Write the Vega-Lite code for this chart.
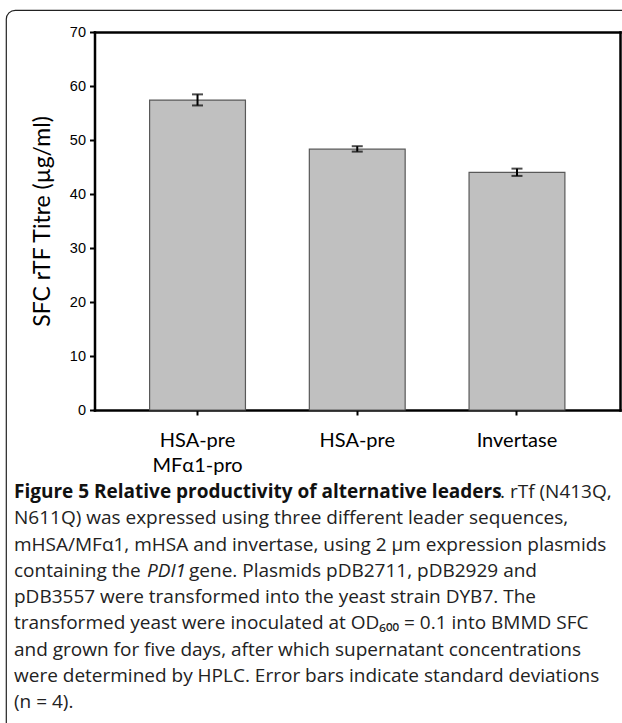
{
  "$schema": "https://vega.github.io/schema/vega-lite/v6.json",
  "width": 640,
  "height": 740,
  "autosize": {"type": "none"},
  "padding": {"left": 6, "top": 10, "right": -24, "bottom": -27},
  "background": "#ffffff",
  "config": {
    "view": {"stroke": "#222222", "strokeWidth": 1.2, "cornerRadius": 9, "fill": "#ffffff"},
    "axis": {"grid": false, "domainColor": "#000000", "tickColor": "#000000", "labelColor": "#000000", "titleColor": "#000000", "domainWidth": 2.5, "domainCap": "square"}
  },
  "datasets": {
    "leaders": [
      {"leader": "HSA-pre MFα1-pro", "titre": 57.4, "lo": 56.4, "hi": 58.45},
      {"leader": "HSA-pre", "titre": 48.3, "lo": 47.85, "hi": 48.85},
      {"leader": "Invertase", "titre": 44.0, "lo": 43.35, "hi": 44.7}
    ],
    "caption": [
      {"line": 1, "part": 1, "text": "Figure 5 Relative productivity of alternative leaders"},
      {"line": 1, "part": 2, "text": ". rTf (N413Q,"},
      {"line": 2, "part": 1, "text": "N611Q) was expressed using three different leader sequences,"},
      {"line": 3, "part": 1, "text": "mHSA/MFα1, mHSA and invertase, using 2 µm expression plasmids"},
      {"line": 4, "part": 1, "text": "containing the"},
      {"line": 4, "part": 2, "text": "PDI1"},
      {"line": 4, "part": 3, "text": "gene. Plasmids pDB2711, pDB2929 and"},
      {"line": 5, "part": 1, "text": "pDB3557 were transformed into the yeast strain DYB7. The"},
      {"line": 6, "part": 1, "text": "transformed yeast were inoculated at OD₆₀₀ = 0.1 into BMMD SFC"},
      {"line": 7, "part": 1, "text": "and grown for five days, after which supernatant concentrations"},
      {"line": 8, "part": 1, "text": "were determined by HPLC. Error bars indicate standard deviations"},
      {"line": 9, "part": 1, "text": "(n = 4)."}
    ]
  },
  "layer": [
    {
      "data": {"name": "leaders"},
      "mark": {"type": "bar", "fill": "#c0c0c0", "stroke": "#595959", "strokeWidth": 1.2},
      "encoding": {
        "x": {
          "field": "leader", "type": "nominal", "sort": null,
          "scale": {"type": "band", "domain": ["HSA-pre MFα1-pro", "HSA-pre", "Invertase"], "range": [88.5, 614], "paddingInner": 0.4, "paddingOuter": 0.345},
          "axis": {"orient": "bottom", "offset": -340, "title": null, "labelAngle": 0, "labelFont": "Lato", "labelFontSize": 20, "labelBaseline": "middle", "labelPadding": 25, "labelLineHeight": 25, "labelExpr": "split(datum.label, ' ')", "tickSize": 5, "tickWidth": 2, "labelLimit": 0, "labelOverlap": false}
        },
        "y": {
          "field": "titre", "type": "quantitative",
          "scale": {"domain": [0, 70], "range": [400, 22], "nice": false},
          "axis": {"orient": "left", "offset": -88.5, "values": [0, 10, 20, 30, 40, 50, 60, 70], "tickSize": 5, "tickWidth": 2, "labelFont": "Liberation Sans", "labelFontSize": 14.5, "labelPadding": 4, "title": "SFC rTF Titre (µg/ml)", "titleFont": "Lato", "titleFontSize": 23, "titleFontWeight": "normal", "titlePadding": 15}
        }
      }
    },
    {
      "data": {"name": "leaders"},
      "mark": {"type": "rule", "strokeWidth": 2, "color": "#000000"},
      "encoding": {
        "x": {
          "field": "leader", "type": "nominal", "sort": null,
          "scale": {"type": "band", "domain": ["HSA-pre MFα1-pro", "HSA-pre", "Invertase"], "range": [88.5, 614], "paddingInner": 0.4, "paddingOuter": 0.345},
          "axis": {"orient": "top", "offset": -22, "ticks": false, "labels": false, "title": null}
        },
        "y": {
          "field": "lo", "type": "quantitative",
          "scale": {"domain": [0, 70], "range": [400, 22], "nice": false},
          "axis": {"orient": "right", "offset": -26, "ticks": false, "labels": false, "title": null}
        },
        "y2": {"field": "hi"}
      }
    },
    {
      "data": {"name": "leaders"},
      "mark": {"type": "tick", "size": 11, "thickness": 2, "color": "#000000"},
      "encoding": {
        "x": {"field": "leader", "type": "nominal", "sort": null, "scale": {"type": "band", "domain": ["HSA-pre MFα1-pro", "HSA-pre", "Invertase"], "range": [88.5, 614], "paddingInner": 0.4, "paddingOuter": 0.345}, "axis": null},
        "y": {"field": "hi", "type": "quantitative", "scale": {"domain": [0, 70], "range": [400, 22], "nice": false}, "axis": null}
      }
    },
    {
      "data": {"name": "leaders"},
      "mark": {"type": "tick", "size": 11, "thickness": 2, "color": "#000000"},
      "encoding": {
        "x": {"field": "leader", "type": "nominal", "sort": null, "scale": {"type": "band", "domain": ["HSA-pre MFα1-pro", "HSA-pre", "Invertase"], "range": [88.5, 614], "paddingInner": 0.4, "paddingOuter": 0.345}, "axis": null},
        "y": {"field": "lo", "type": "quantitative", "scale": {"domain": [0, 70], "range": [400, 22], "nice": false}, "axis": null}
      }
    },
    {
      "data": {"name": "caption"},
      "transform": [{"filter": "datum.part == 1 && datum.line != 1"}],
      "mark": {"type": "text", "align": "left", "baseline": "alphabetic", "font": "Open Sans", "fontSize": 19, "color": "#222222"},
      "encoding": {
        "x": {"datum": 0, "type": "quantitative", "scale": {"domain": [0, 1], "range": [8, 614]}, "axis": null},
        "y": {"field": "line", "type": "ordinal", "scale": {"type": "point", "domain": [1, 2, 3, 4, 5, 6, 7, 8, 9], "range": [488, 698], "padding": 0}, "axis": null},
        "text": {"field": "text"}
      }
    },
    {
      "data": {"name": "caption"},
      "transform": [{"filter": "datum.part == 1 && datum.line == 1"}],
      "mark": {"type": "text", "align": "left", "baseline": "alphabetic", "font": "Open Sans", "fontSize": 19, "fontWeight": "bold", "color": "#111111"},
      "encoding": {
        "x": {"datum": 0, "type": "quantitative", "scale": {"domain": [0, 1], "range": [8, 614]}, "axis": null},
        "y": {"field": "line", "type": "ordinal", "scale": {"type": "point", "domain": [1, 2, 3, 4, 5, 6, 7, 8, 9], "range": [488, 698], "padding": 0}, "axis": null},
        "text": {"field": "text"}
      }
    },
    {
      "data": {"name": "caption"},
      "transform": [{"filter": "datum.part == 2 && datum.line == 1"}],
      "mark": {"type": "text", "align": "left", "baseline": "alphabetic", "font": "Open Sans", "fontSize": 19, "color": "#222222", "dx": 486},
      "encoding": {
        "x": {"datum": 0, "type": "quantitative", "scale": {"domain": [0, 1], "range": [8, 614]}, "axis": null},
        "y": {"field": "line", "type": "ordinal", "scale": {"type": "point", "domain": [1, 2, 3, 4, 5, 6, 7, 8, 9], "range": [488, 698], "padding": 0}, "axis": null},
        "text": {"field": "text"}
      }
    },
    {
      "data": {"name": "caption"},
      "transform": [{"filter": "datum.part == 2 && datum.line == 4"}],
      "mark": {"type": "text", "align": "left", "baseline": "alphabetic", "font": "Open Sans", "fontSize": 19, "fontStyle": "italic", "color": "#222222", "dx": 133},
      "encoding": {
        "x": {"datum": 0, "type": "quantitative", "scale": {"domain": [0, 1], "range": [8, 614]}, "axis": null},
        "y": {"field": "line", "type": "ordinal", "scale": {"type": "point", "domain": [1, 2, 3, 4, 5, 6, 7, 8, 9], "range": [488, 698], "padding": 0}, "axis": null},
        "text": {"field": "text"}
      }
    },
    {
      "data": {"name": "caption"},
      "transform": [{"filter": "datum.part == 3 && datum.line == 4"}],
      "mark": {"type": "text", "align": "left", "baseline": "alphabetic", "font": "Open Sans", "fontSize": 19, "color": "#222222", "dx": 175},
      "encoding": {
        "x": {"datum": 0, "type": "quantitative", "scale": {"domain": [0, 1], "range": [8, 614]}, "axis": null},
        "y": {"field": "line", "type": "ordinal", "scale": {"type": "point", "domain": [1, 2, 3, 4, 5, 6, 7, 8, 9], "range": [488, 698], "padding": 0}, "axis": null},
        "text": {"field": "text"}
      }
    }
  ],
  "resolve": {
    "scale": {"x": "independent", "y": "independent"},
    "axis": {"x": "independent", "y": "independent"}
  }
}
